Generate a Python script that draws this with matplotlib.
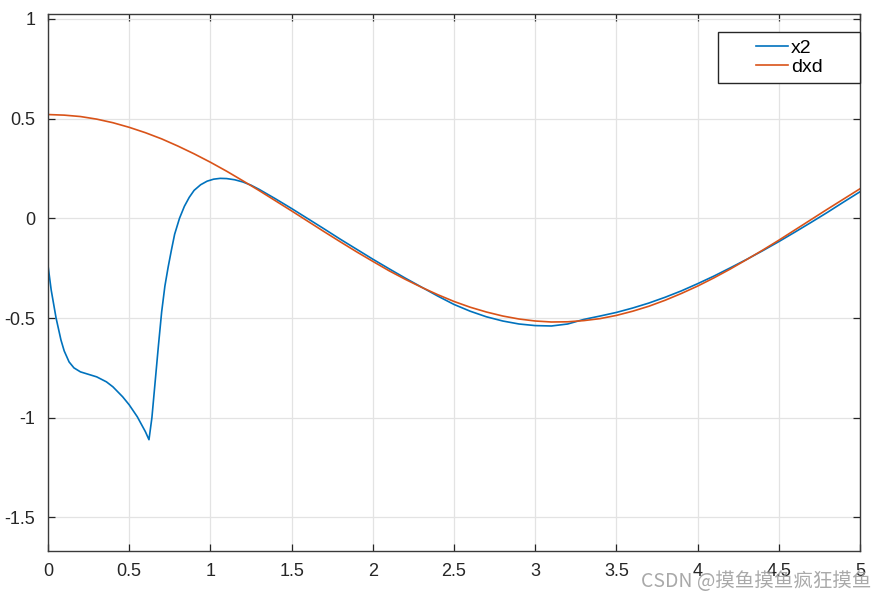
import numpy as np
import matplotlib.pyplot as plt
from matplotlib.patches import Rectangle

plt.rcParams['font.family'] = ['Liberation Sans', 'DejaVu Sans']
plt.rcParams['axes.unicode_minus'] = False

# x2 curve
x2_x = [0, 0.02, 0.05, 0.08, 0.1, 0.13, 0.16, 0.2, 0.26, 0.3, 0.36, 0.4, 0.46, 0.5,
        0.55, 0.6, 0.622, 0.64, 0.66, 0.68, 0.7, 0.72, 0.74, 0.76, 0.78, 0.81, 0.84,
        0.87, 0.9, 0.94, 0.98, 1.02, 1.06, 1.1, 1.15, 1.2, 1.25,
        1.3, 1.4, 1.5, 1.6, 1.7, 1.8, 1.9, 2.0, 2.1, 2.2, 2.3, 2.4, 2.5, 2.6, 2.7,
        2.8, 2.9, 3.0, 3.1, 3.2, 3.3, 3.4, 3.5, 3.6, 3.7, 3.8, 3.9, 4.0, 4.1, 4.2,
        4.3, 4.4, 4.5, 4.6, 4.7, 4.8, 4.9, 5.0]
x2_y = [-0.235, -0.36, -0.50, -0.61, -0.665, -0.72, -0.75, -0.77, -0.785, -0.795,
        -0.82, -0.845, -0.895, -0.935, -0.995, -1.07, -1.11, -1.0, -0.82, -0.64,
        -0.47, -0.34, -0.245, -0.16, -0.08, 0.0, 0.06, 0.105, 0.14, 0.168, 0.186,
        0.196, 0.2, 0.199, 0.193, 0.182, 0.166,
        0.145, 0.098, 0.049, -0.002, -0.053, -0.105, -0.155, -0.205, -0.253, -0.300,
        -0.345, -0.390, -0.432, -0.466, -0.494, -0.515, -0.530, -0.538, -0.540,
        -0.530, -0.507, -0.490, -0.472, -0.450, -0.425, -0.396, -0.364, -0.328,
        -0.290, -0.249, -0.207, -0.163, -0.117, -0.069, -0.020, 0.030, 0.082, 0.133]

# dxd curve
dxd_x = [round(0.1 * i, 1) for i in range(51)]
dxd_y = [0.520, 0.517, 0.510, 0.497, 0.479, 0.456, 0.429, 0.398, 0.362, 0.323,
         0.281, 0.236, 0.188, 0.139, 0.088, 0.037, -0.015, -0.067, -0.118, -0.168,
         -0.216, -0.263, -0.306, -0.346, -0.383, -0.417, -0.446, -0.470, -0.490,
         -0.505, -0.515, -0.520, -0.519, -0.513, -0.503, -0.487, -0.466, -0.441,
         -0.411, -0.377, -0.340, -0.299, -0.255, -0.208, -0.160, -0.110, -0.058,
         -0.006, 0.046, 0.097, 0.148]

xticks = [0, 0.5, 1, 1.5, 2, 2.5, 3, 3.5, 4, 4.5, 5]
xtick_labels = ['0', '0.5', '1', '1.5', '2', '2.5', '3', '3.5', '4', '4.5', '5']
yticks = [-1.5, -1, -0.5, 0, 0.5, 1]
ytick_labels = ['-1.5', '-1', '-0.5', '0', '0.5', '1']

fig = plt.figure(figsize=(8.88, 6.01), dpi=100)
ax = fig.add_axes([0.054, 0.0832, 0.9145, 0.8935])

ax.plot(x2_x, x2_y, color='#0072BD', lw=1.2, label='x2')
ax.plot(dxd_x, dxd_y, color='#D95319', lw=1.2, label='dxd')

ax.set_xlim(0, 5)
ax.set_ylim(-1.668, 1.024)
ax.set_xticks(xticks)
ax.set_xticklabels(xtick_labels)
ax.set_yticks(yticks)
ax.set_yticklabels(ytick_labels)
ax.grid(True, color='#e3e3e3', lw=0.9)
ax.set_axisbelow(True)
ax.tick_params(direction='in', length=5, width=0.9, top=True, right=True,
               labelsize=13, colors='#262626', pad=9)
for s in ax.spines.values():
    s.set_color('#3a3a3a')
    s.set_linewidth(1.0)

# matlab-like legend box: drawn by hand, legend itself without frame
box = Rectangle((0.825, 0.8715), 0.175, 0.095, transform=ax.transAxes,
                facecolor='white', edgecolor='#262626', lw=1.0, zorder=4.5,
                clip_on=False)
ax.add_patch(box)
leg = ax.legend(loc='center left', bbox_to_anchor=(0.872, 0.919), borderaxespad=0,
                fontsize=14, frameon=False, handlelength=1.65, handletextpad=0.16,
                borderpad=0, labelspacing=0.1)
leg.set_zorder(6)

fig.text(0.722, 0.032, 'CSDN @摸鱼摸鱼疯狂摸鱼', fontsize=14, color='#9a9a9a',
         alpha=0.85, ha='left', va='center',
         family=['Noto Sans CJK SC', 'DejaVu Sans'])

fig.savefig('out.png', dpi=100)
